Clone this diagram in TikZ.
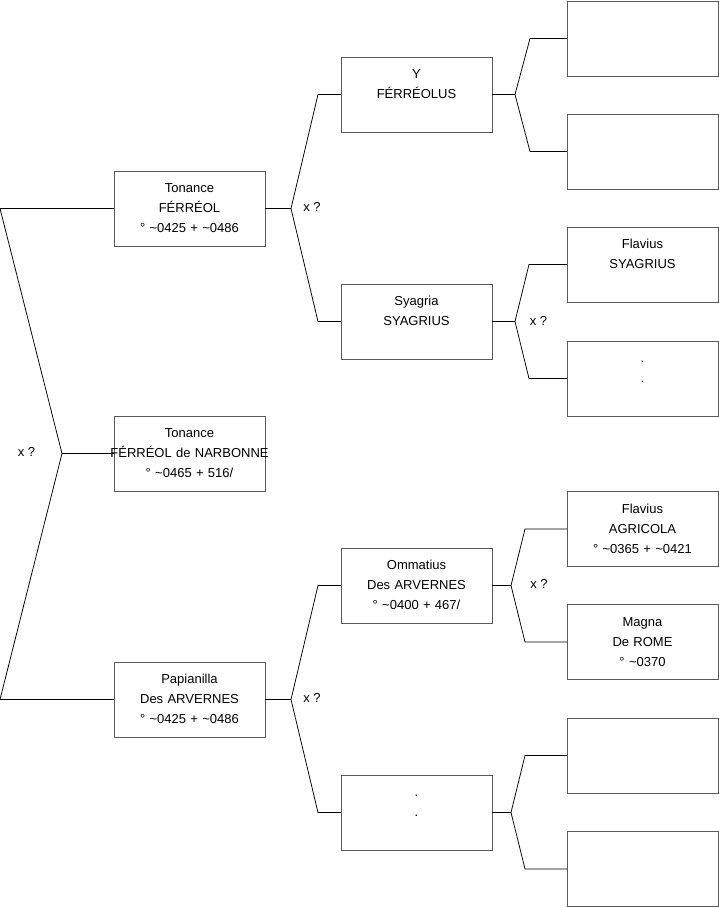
\documentclass[tikz,border=0pt]{standalone}
\usepackage{fontspec}
\setmainfont{Liberation Sans}
\newcommand{\tld}{\textasciitilde{}}
\begin{document}
\begin{tikzpicture}[x=1pt,y=-1pt,
  pbox/.style={draw=black!65, line width=0.8pt, minimum width=151pt, minimum height=75pt,
    inner sep=0pt, outer sep=0pt, text width=151pt, align=center,
    font=\fontsize{13}{20}\selectfont},
  link/.style={draw=black, line width=0.75pt},
  qlabel/.style={font=\fontsize{13}{16}\selectfont, inner sep=0pt}]
\useasboundingbox (0,0) rectangle (719,908);

% generation 1
\node[pbox] (A) at (189.5,208.5) {\strut Tonance\\\strut FÉRRÉOL\\\strut ° \tld0425 + \tld0486};
\node[pbox] (B) at (189.5,453.5) {\strut Tonance\\\strut\makebox[0pt]{FÉRRÉOL de NARBONNE}\\\strut ° \tld0465 + 516/};
\node[pbox] (C) at (189.5,699.5) {\strut Papianilla\\\strut Des ARVERNES\\\strut ° \tld0425 + \tld0486};

% generation 2
\node[pbox] (D) at (416.5,94.5) {\strut Y\\\strut FÉRRÉOLUS\\\strut};
\node[pbox] (E) at (416.5,321.5) {\strut Syagria\\\strut SYAGRIUS\\\strut};
\node[pbox] (F) at (416.5,585.5) {\strut Ommatius\\\strut Des ARVERNES\\\strut ° \tld0400 + 467/};
\node[pbox] (G) at (416.5,812.5) {\strut .\\\strut .\\\strut};

% generation 3
\node[pbox] (H1) at (642.5,38.5) {\strut\\\strut\\\strut};
\node[pbox] (H2) at (642.5,151.5) {\strut\\\strut\\\strut};
\node[pbox] (I1) at (642.5,264.5) {\strut Flavius\\\strut SYAGRIUS\\\strut};
\node[pbox] (I2) at (642.5,378.5) {\strut .\\\strut .\\\strut};
\node[pbox] (J1) at (642.5,529) {\strut Flavius\\\strut AGRICOLA\\\strut ° \tld0365 + \tld0421};
\node[pbox] (J2) at (642.5,642) {\strut Magna\\\strut De ROME\\\strut ° \tld0370};
\node[pbox] (K1) at (642.5,755.5) {\strut\\\strut\\\strut};
\node[pbox] (K2) at (642.5,869) {\strut\\\strut\\\strut};

% root bracket
\coordinate (rA) at (0,208.5);
\coordinate (rv) at (62,453.5);
\coordinate (rC) at (0,699.5);
\draw[link] (A.west) -- (rA) -- (rv) -- (rC) -- (C.west);
\draw[link] (rv) -- (B.west);
\node[qlabel] (q0) at (26.5,451.5) {x ?};

% A -> D, E
\coordinate (av) at (291,208.5);
\coordinate (aD) at (318,94.5);
\coordinate (aE) at (318,321.5);
\draw[link] (D.west) -- (aD) -- (av) -- (aE) -- (E.west);
\draw[link] (A.east) -- (av);
\node[qlabel] (q1) at (312,207) {x ?};

% C -> F, G
\coordinate (cv) at (291,699.5);
\coordinate (cF) at (318,585.5);
\coordinate (cG) at (318,812.5);
\draw[link] (F.west) -- (cF) -- (cv) -- (cG) -- (G.west);
\draw[link] (C.east) -- (cv);
\node[qlabel] (q2) at (312,698) {x ?};

% D -> H1, H2
\coordinate (dv) at (515,94.5);
\coordinate (dH1) at (530,38.5);
\coordinate (dH2) at (530,151.5);
\draw[link] (H1.west) -- (dH1) -- (dv) -- (dH2) -- (H2.west);
\draw[link] (D.east) -- (dv);

% E -> I1, I2
\coordinate (ev) at (515,321.5);
\coordinate (eI1) at (529,264.5);
\coordinate (eI2) at (529,378.5);
\draw[link] (I1.west) -- (eI1) -- (ev) -- (eI2) -- (I2.west);
\draw[link] (E.east) -- (ev);
\node[qlabel] (q3) at (538.5,320.5) {x ?};

% F -> J1, J2
\coordinate (fv) at (511,585.5);
\coordinate (fJ1) at (525,529);
\coordinate (fJ2) at (525,642);
\draw[link] (J1.west) -- (fJ1) -- (fv) -- (fJ2) -- (J2.west);
\draw[link] (F.east) -- (fv);
\node[qlabel] (q4) at (539,583.5) {x ?};

% G -> K1, K2
\coordinate (gv) at (511,812.5);
\coordinate (gK1) at (525,755.5);
\coordinate (gK2) at (525,869);
\draw[link] (K1.west) -- (gK1) -- (gv) -- (gK2) -- (K2.west);
\draw[link] (G.east) -- (gv);
\end{tikzpicture}
\end{document}
